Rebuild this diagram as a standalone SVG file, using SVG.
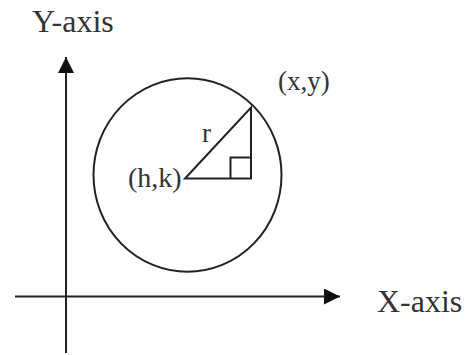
<svg xmlns="http://www.w3.org/2000/svg" width="474" height="355" viewBox="0 0 474 355">
<style>
.ln{fill:none;stroke:#222;stroke-width:2}
.t{font-family:"Liberation Serif","Times New Roman",serif;fill:#333}
</style>
<defs>
<marker id="ah" markerUnits="userSpaceOnUse" markerWidth="17" markerHeight="16" refX="16" refY="8" orient="auto">
<path d="M0,0 L16,8 L0,16 Z" fill="#111"/>
</marker>
</defs>
<rect width="474" height="355" fill="#fff"/>
<g id="connectors">
<line id="y-axis" class="ln" x1="66" y1="353" x2="66" y2="57" marker-end="url(#ah)"/>
<line id="x-axis" class="ln" x1="15" y1="296.5" x2="340" y2="296.5" marker-end="url(#ah)"/>
</g>
<g id="circle">
<ellipse class="ln" cx="187.5" cy="175" rx="94" ry="96.7"/>
</g>
<g id="triangle">
<path class="ln" d="M185,178.5 L251,107.5 L251,178.5 Z"/>
<path class="ln" d="M230.5,178.5 L230.5,157.5 L251,157.5"/>
</g>
<g id="labels">
<text id="y-label" class="t" x="32" y="32" font-size="32">Y-axis</text>
<text id="x-label" class="t" x="377" y="312" font-size="32">X-axis</text>
<text id="xy-label" class="t" x="278" y="90" font-size="27">(x,y)</text>
<text id="hk-label" class="t" x="128" y="187" font-size="28">(h,k)</text>
<text id="r-label" class="t" x="202" y="142" font-size="27">r</text>
</g>
</svg>
